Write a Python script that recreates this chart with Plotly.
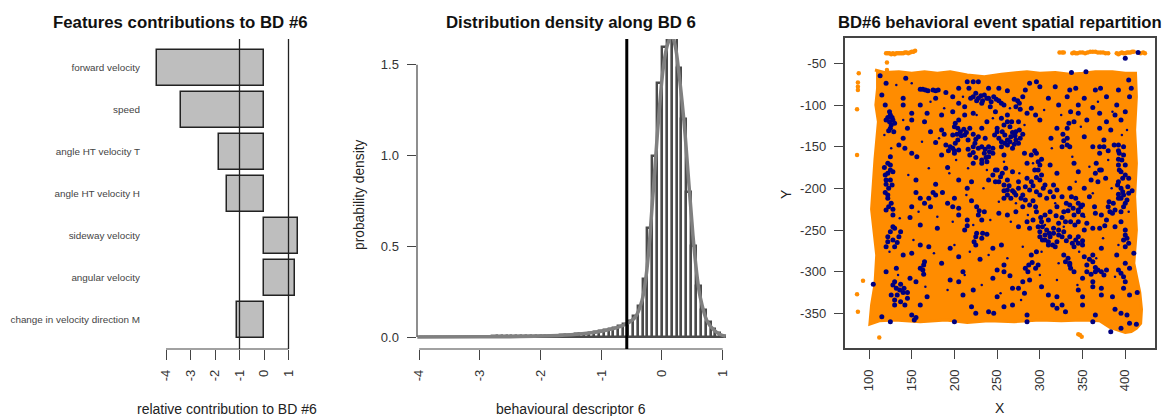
import plotly.graph_objects as go

W, H = 1173, 416

# --- panel 1
features = ["forward velocity", "speed", "angle HT velocity T", "angle HT velocity H",
            "sideway velocity", "angular velocity", "change in velocity direction M"]
contrib = [-4.35, -3.4, -1.82, -1.5, 1.38, 1.25, -1.12]
contrib_ticks = [-4, -3, -2, -1, 0, 1]
contrib_lines = [-1, 1]

# --- panel 2
hist_mid = [-3.96, -3.88, -3.8, -3.72, -3.64, -3.56, -3.48, -3.4, -3.32, -3.24, -3.16, -3.08, -3.0,
            -2.92, -2.84, -2.76, -2.68, -2.6, -2.52, -2.44, -2.36, -2.28, -2.2, -2.12, -2.04,
            -1.96, -1.88, -1.8, -1.72, -1.64, -1.56, -1.48, -1.4, -1.32, -1.24, -1.16, -1.08, -1.0,
            -0.92, -0.84, -0.76, -0.68, -0.6, -0.52, -0.44, -0.36, -0.28, -0.2, -0.12, -0.04,
            0.04, 0.12, 0.2, 0.28, 0.36, 0.44, 0.52, 0.6, 0.68, 0.76, 0.84, 0.92, 1.0]
hist_val = [0.001, 0.001, 0.001, 0.001, 0.001, 0.001, 0.001, 0.001, 0.002, 0.002, 0.002, 0.002, 0.002,
            0.002, 0.002, 0.003, 0.003, 0.003, 0.003, 0.003, 0.004, 0.004, 0.004, 0.005, 0.005,
            0.006, 0.006, 0.007, 0.008, 0.009, 0.011, 0.012, 0.014, 0.016, 0.019, 0.022, 0.027, 0.033,
            0.038, 0.045, 0.052, 0.06, 0.07, 0.09, 0.115, 0.17, 0.32, 0.6, 1.0, 1.4,
            1.6, 1.75, 1.72, 1.48, 1.2, 0.8, 0.5, 0.28, 0.15, 0.085, 0.045, 0.022, 0.008]
dens_x = [-4.03, -3.0, -2.5, -2.0, -1.5, -1.2, -1.0, -0.8, -0.6, -0.44, -0.33, -0.26, -0.2, -0.08, 0.0,
          0.05, 0.1, 0.16, 0.22, 0.28, 0.33, 0.38, 0.51, 0.58, 0.63, 0.74, 0.86, 0.95, 1.05]
dens_y = [0.0, 0.001, 0.002, 0.005, 0.012, 0.022, 0.032, 0.046, 0.07, 0.11, 0.2, 0.34, 0.55, 1.1, 1.42,
          1.55, 1.62, 1.66, 1.6, 1.45, 1.3, 1.12, 0.56, 0.33, 0.22, 0.09, 0.037, 0.015, 0.004]
dens_ticks_x = [-4, -3, -2, -1, 0, 1]
dens_ticks_y = [0.0, 0.5, 1.0, 1.5]
threshold = [-0.58]

# --- panel 3
mass_x = [107, 118, 135, 150, 165, 180, 195, 215, 235, 255, 275, 285, 300, 318, 335, 350, 365, 385, 400, 412,
          413, 411, 413, 411, 413, 410, 413, 417, 419, 418, 413, 407, 400, 390, 382, 370, 350, 325, 300, 270,
          240, 215, 190, 160, 130, 112, 101, 103, 107, 109, 103, 105, 107, 111, 108, 110, 110]
mass_y = [-58, -61, -60, -62, -60, -62, -60, -64, -66, -63, -61, -60, -62, -61, -63, -62, -60, -60, -62, -62,
          -90, -130, -170, -210, -250, -290, -305, -325, -345, -362, -368, -372, -373, -370, -367, -359, -358,
          -359, -358, -360, -359, -361, -358, -360, -358, -359, -363, -340, -315, -280, -225, -195, -165, -120,
          -100, -80, -58]
stray_x = [120, 122, 124, 126, 128, 130, 132, 134, 136, 138, 140, 142, 144, 146, 148, 150, 152, 154,
           323, 326, 328, 338, 340, 342, 344, 347, 350, 353, 356, 359, 362, 365, 368, 371, 374, 377, 380,
           390, 392, 394, 396, 398, 400, 402, 404, 406, 408, 410, 418, 421, 423,
           88, 87, 87, 87, 86, 86, 93, 86, 87, 112, 121, 121, 345, 347, 349, 112]
stray_y = [-38, -38, -38, -39, -38, -39, -38, -38, -38, -38, -38, -37, -37, -38, -37, -36, -36, -35,
           -37, -37, -37, -38, -37, -38, -38, -37, -37, -38, -37, -36, -36, -36, -37, -37, -37, -38, -38,
           -38, -39, -38, -37, -38, -38, -37, -37, -37, -36, -36, -38, -37, -38,
           -62, -73, -78, -82, -105, -160, -311, -327, -348, -379, -49, -58, -375, -376, -378, -122]

navy_xy_rows = [
    [(113,-65),(143,-68),(120,-74),(215,-72),(222,-72),(228,-72),(288,-74),(296,-72),(337,-61),(354,-60),(404,-70),(415,-37),(400,-44)],
    [(160,-81),(166,-82),(175,-82),(181,-82),(190,-85),(205,-80),(217,-80),(240,-80),(252,-80),(262,-83),(283,-82),(300,-78),(318,-78),(335,-82),(342,-80),(365,-82),(371,-80),(392,-82),(407,-80)],
    [(115,-88),(140,-92),(178,-92),(198,-90),(222,-90),(228,-92),(235,-88),(240,-92),(246,-90),(252,-95),(270,-93),(280,-90),(310,-92),(332,-90),(352,-92),(378,-90),(405,-90)],
    [(119,-100),(140,-100),(160,-100),(205,-98),(212,-102),(232,-98),(242,-102),(258,-100),(272,-102),(276,-98),(290,-104),(322,-100),(345,-100),(362,-103),(390,-100)],
    [(124,-108),(168,-110),(185,-112),(198,-108),(212,-112),(222,-110),(248,-108),(262,-112),(285,-110),(295,-112),(336,-108),(345,-110),(370,-110),(388,-112),(400,-108)],
    [(122,-115),(127,-115),(124,-120),(130,-122),(150,-118),(165,-120),(205,-118),(238,-120),(255,-116),(262,-120),(275,-120),(300,-118),(340,-120),(355,-118),(378,-120),(395,-118)],
    [(125,-128),(129,-132),(145,-128),(185,-130),(200,-126),(207,-132),(218,-128),(232,-128),(250,-128),(256,-132),(265,-126),(272,-132),(320,-128),(370,-128),(383,-130)],
    [(140,-140),(188,-135),(198,-136),(204,-142),(212,-136),(216,-142),(228,-138),(236,-140),(252,-140),(259,-136),(266,-138),(272,-142),(280,-135),(313,-140),(327,-135),(332,-140),(352,-138),(375,-142)],
    [(135,-148),(142,-152),(190,-148),(198,-152),(205,-154),(222,-150),(232,-150),(245,-152),(255,-150),(262,-148),(268,-152),(275,-146),(294,-155),(326,-150),(332,-148),(362,-150),(370,-150),(392,-148),(398,-150)],
    [(150,-158),(156,-162),(125,-162),(200,-158),(218,-160),(225,-163),(235,-158),(240,-162),(245,-158),(258,-160),(282,-158),(290,-160),(296,-158),(370,-158),(393,-158),(398,-160),(392,-165)],
    [(122,-170),(118,-175),(125,-172),(222,-170),(232,-170),(238,-168),(285,-170),(298,-168),(312,-172),(340,-170),(392,-172),(400,-172)],
    [(122,-182),(128,-180),(250,-178),(256,-182),(245,-184),(268,-180),(298,-178),(302,-184),(320,-182),(345,-180),(365,-182),(372,-178),(395,-180),(400,-184)],
    [(125,-190),(120,-195),(155,-190),(205,-190),(220,-192),(240,-190),(248,-192),(262,-190),(275,-192),(285,-188),(290,-192),(300,-190),(360,-190),(368,-192),(392,-192),(404,-188)],
    [(123,-200),(119,-205),(175,-205),(215,-200),(262,-202),(270,-205),(262,-208),(275,-200),(280,-208),(288,-202),(304,-200),(312,-204),(335,-200),(395,-200),(403,-198),(408,-203)],
    [(122,-212),(160,-212),(170,-212),(178,-208),(200,-212),(258,-212),(266,-212),(278,-212),(292,-215),(308,-212),(316,-210),(342,-212),(392,-212),(398,-208),(402,-214)],
    [(123,-222),(128,-225),(150,-222),(165,-218),(172,-222),(198,-222),(205,-224),(280,-222),(295,-222),(320,-222),(335,-220),(345,-218),(380,-222),(386,-218),(398,-222)],
    [(128,-232),(235,-228),(228,-232),(252,-230),(262,-232),(272,-228),(328,-228),(340,-232),(385,-230),(365,-230),(395,-228)],
    [(285,-240),(292,-238),(302,-240),(310,-238),(330,-240),(322,-242),(345,-240),(215,-238),(232,-238),(355,-242),(395,-240),(378,-238)],
    [(130,-248),(160,-244),(180,-248),(212,-250),(275,-246),(288,-248),(300,-252),(308,-250),(316,-248),(322,-250),(328,-252),(352,-250),(370,-248),(388,-246),(400,-250)],
    [(122,-258),(135,-258),(128,-262),(225,-258),(232,-260),(300,-258),(306,-262),(312,-258),(320,-264),(335,-258),(342,-262),(345,-258),(398,-262),(402,-260)],
    [(120,-270),(130,-270),(160,-268),(195,-272),(225,-268),(255,-268),(310,-268),(318,-270),(340,-270),(350,-268),(372,-272),(400,-270)],
    [(150,-278),(205,-282),(290,-280),(296,-276),(328,-280),(333,-284),(352,-282),(390,-280),(410,-278)],
    [(165,-288),(335,-290),(362,-288),(365,-295),(298,-292),(335,-292),(355,-292),(258,-292),(400,-290)],
    [(163,-298),(164,-292),(132,-296),(295,-296),(286,-300),(368,-298),(372,-300),(378,-298),(250,-298),(258,-300),(392,-298),(395,-302),(405,-296),(120,-300)],
    [(148,-308),(155,-312),(195,-310),(205,-312),(245,-308),(350,-308),(362,-312),(288,-310),(280,-312),(398,-306),(400,-312)],
    [(128,-316),(132,-320),(105,-315),(140,-325),(136,-322),(222,-322),(268,-320),(302,-318),(345,-322),(362,-318),(372,-320),(398,-320)],
    [(126,-328),(145,-332),(168,-330),(210,-328),(250,-330),(282,-326),(310,-328),(320,-330),(350,-330),(372,-328),(385,-330),(405,-328),(414,-325)],
    [(130,-340),(142,-340),(160,-340),(220,-342),(258,-342),(268,-340),(315,-340),(320,-344),(326,-340),(350,-340),(388,-345)],
    [(115,-354),(150,-352),(155,-355),(225,-350),(240,-348),(246,-350),(285,-352),(330,-348),(365,-352),(395,-350),(402,-352)],
    [(125,-360),(153,-358),(200,-360),(285,-360),(362,-360),(413,-363),(383,-372),(395,-368),(405,-362)],
    [(163,-81),(169,-83),(178,-83),(225,-86),(231,-89),(238,-92),(243,-96),(219,-92),(226,-95),(233,-95),(249,-93),(255,-98),(274,-95),(277,-105)],
    [(125,-112),(120,-118),(128,-118),(126,-124),(123,-131),(201,-122),(204,-128),(211,-129),(214,-133),(208,-137),(203,-135),(222,-135),(225,-141)],
    [(201,-146),(195,-150),(193,-155),(200,-155),(224,-146),(228,-152),(236,-153),(240,-150),(241,-156),(237,-163),(232,-166),(222,-157),(216,-153)],
    [(250,-132),(247,-136),(255,-144),(262,-142),(268,-133),(271,-137),(259,-146),(265,-144),(270,-147),(277,-140),(276,-130),(267,-120),(258,-124)],
    [(254,-186),(248,-178),(260,-176),(252,-192),(258,-196),(264,-197),(268,-203),(258,-203),(272,-208),(283,-198),(292,-197),(296,-204),(300,-208),(306,-196)],
    [(283,-214),(288,-220),(296,-228),(301,-235),(306,-232),(312,-228),(319,-233),(326,-235),(333,-227),(339,-224),(345,-226),(350,-220),(336,-240),(341,-244)],
    [(298,-246),(303,-246),(306,-256),(311,-254),(316,-254),(303,-262),(310,-264),(315,-268),(322,-256),(326,-258),(331,-263),(338,-266),(345,-266),(350,-263)],
    [(294,-178),(296,-187),(300,-172),(302,-165),(348,-222),(345,-228),(350,-232),(337,-210),(331,-218),(316,-196),(320,-202),(326,-210)],
    [(392,-155),(396,-166),(393,-178),(397,-188),(391,-196),(397,-204),(404,-206),(392,-207),(400,-218),(395,-212),(382,-228),(388,-226),(381,-216),(400,-256),(404,-266)],
    [(125,-178),(119,-184),(120,-190),(127,-196),(122,-208),(126,-218),(120,-226),(128,-246),(125,-252),(122,-264),(137,-252),(133,-265)],
    [(130,-312),(137,-315),(141,-320),(145,-325),(133,-328),(130,-334),(137,-336),(226,-254),(233,-254),(223,-264),(238,-255),(164,-303),(160,-296)],
    [(287,-292),(291,-289),(283,-296),(355,-300),(360,-303),(365,-300),(375,-304),(362,-280),(358,-285),(330,-288),(336,-296),(340,-300),(220,-215),(226,-222),(229,-227)],
    [(332,-128),(334,-122),(328,-143),(335,-150),(375,-150),(380,-155),(387,-148),(366,-170),(370,-178),(377,-188),(352,-200),(358,-210),(364,-222),(372,-232),(376,-245),(362,-248)],
    [(150,-110),(172,-132),(178,-145),(185,-160),(192,-175),(178,-195),(186,-205),(192,-218),(205,-232),(215,-245),(155,-205),(148,-235),(140,-280),(170,-270),(185,-290),(210,-300),(230,-285),(245,-272),(265,-305),(275,-320)],
]
navy_x = [p[0] for row in navy_xy_rows for p in row]
navy_y = [p[1] for row in navy_xy_rows for p in row]
speck_x = [132, 150, 172, 188, 210, 226, 245, 265, 282, 305, 325, 348, 368, 385, 402, 118, 140, 162, 182, 202,
           216, 238, 258, 276, 292, 314, 338, 358, 380, 396, 126, 146, 170, 194, 214, 234, 252, 272, 296, 318,
           342, 362, 384, 404, 136, 158, 180, 198, 222, 242, 266, 286, 306, 328, 352, 374, 392, 124, 152, 176,
           200, 218, 240, 262, 280, 302, 322, 346, 366, 388, 134, 166, 192, 212, 232, 254, 278, 300, 320, 344]
speck_y = [-76, -74, -96, -104, -90, -112, -116, -104, -124, -106, -112, -126, -96, -108, -130, -136, -118, -144,
           -140, -166, -176, -178, -168, -182, -170, -152, -162, -174, -166, -136, -152, -184, -176, -182, -208,
           -200, -216, -218, -186, -218, -192, -206, -200, -228, -236, -228, -234, -240, -244, -238, -240, -232,
           -244, -246, -234, -260, -268, -276, -262, -278, -268, -276, -280, -284, -270, -276, -290, -276, -284,
           -306, -304, -318, -322, -304, -316, -326, -334, -304, -310, -316]
space_ticks_x = [100, 150, 200, 250, 300, 350, 400]
space_ticks_y = [-50, -100, -150, -200, -250, -300, -350]

FONT = "Liberation Sans"
INK = "#333333"
ORANGE = "#FF8C00"
NAVY = "#000080"


def dom_x(a, b):
    return [a / W, b / W]


def dom_y(top, bottom):
    return [(H - bottom) / H, (H - top) / H]


fig = go.Figure()

fig.add_trace(go.Bar(y=features, x=contrib, orientation="h", width=0.845,
                     marker=dict(color="#BEBEBE", line=dict(color="#222222", width=1.5)),
                     xaxis="x", yaxis="y", showlegend=False))

fig.add_trace(go.Bar(x=hist_mid, y=hist_val, width=0.08,
                     marker=dict(color="white", line=dict(color="#4A4A4A", width=2.4)),
                     xaxis="x2", yaxis="y2", showlegend=False))
fig.add_trace(go.Scatter(x=dens_x, y=dens_y, mode="lines", line=dict(color="#808080", width=3.5, shape="spline"),
                         xaxis="x2", yaxis="y2", showlegend=False))

fig.add_trace(go.Scatter(x=mass_x, y=mass_y, mode="lines", fill="toself", fillcolor=ORANGE,
                         line=dict(color=ORANGE, width=3), xaxis="x3", yaxis="y3", showlegend=False))
fig.add_trace(go.Scatter(x=stray_x, y=stray_y, mode="markers", marker=dict(color=ORANGE, size=4.5),
                         xaxis="x3", yaxis="y3", showlegend=False))
fig.add_trace(go.Scatter(x=navy_x, y=navy_y, mode="markers", marker=dict(color=NAVY, size=5),
                         xaxis="x3", yaxis="y3", showlegend=False))
fig.add_trace(go.Scatter(x=speck_x, y=speck_y, mode="markers", marker=dict(color=NAVY, size=2.5),
                         xaxis="x3", yaxis="y3", showlegend=False))

tick = dict(ticks="outside", ticklen=9.5, tickwidth=1, tickcolor="#444444", showgrid=False, zeroline=False,
            automargin=False, tickfont=dict(family=FONT, size=13, color=INK))

fig.update_layout(
    width=W, height=H, margin=dict(l=0, r=0, t=0, b=0), autosize=False,
    paper_bgcolor="white", plot_bgcolor="white", bargap=0, showlegend=False,
    xaxis=dict(domain=dom_x(143, 303), range=[(143 - 264) / 24.5, (303 - 264) / 24.5], tickmode="array",
               tickvals=contrib_ticks, ticktext=[str(v) for v in contrib_ticks], tickangle=-90,
               ticklabelstandoff=5, showline=False, **tick),
    yaxis=dict(domain=dom_y(39, 349), type="category", range=[6.69, -0.685], showgrid=False, zeroline=False,
               automargin=False, showline=False, ticks="", ticklabelstandoff=2,
               tickfont=dict(family=FONT, size=9.9, color="#444444")),
    xaxis2=dict(domain=dom_x(417, 727), range=[-4.036, 1.071], anchor="y2", tickmode="array",
                tickvals=dens_ticks_x, ticktext=[str(v) for v in dens_ticks_x], tickangle=-90,
                ticklabelstandoff=5, showline=False, **tick),
    yaxis2=dict(domain=dom_y(39, 349), range=[-0.066, 1.642], anchor="x2", tickmode="array",
                tickvals=dens_ticks_y, ticktext=[f"{v:.1f}" for v in dens_ticks_y], ticklabelstandoff=5,
                showline=False, **tick),
    xaxis3=dict(domain=dom_x(845, 1155), range=[71.9, 434.8], anchor="y3", tickmode="array",
                tickvals=space_ticks_x, ticktext=[str(v) for v in space_ticks_x], tickangle=-90,
                ticklabelstandoff=5, showline=True, mirror=True, linecolor="#444444", linewidth=1.5, **tick),
    yaxis3=dict(domain=dom_y(38, 348), range=[-391.6, -19.6], anchor="x3", tickmode="array",
                tickvals=space_ticks_y, ticktext=[str(v) for v in space_ticks_y], ticklabelstandoff=5,
                showline=True, mirror=True, linecolor="#444444", linewidth=1.5, **tick),
)

axis_line = dict(color="#444444", width=1.2)
shapes = [
    dict(type="line", xref="x", yref="paper", x0=contrib_ticks[0], x1=contrib_ticks[-1],
         y0=(H - 349) / H, y1=(H - 349) / H, line=axis_line),
    dict(type="line", xref="x2", yref="paper", x0=dens_ticks_x[0], x1=dens_ticks_x[-1],
         y0=(H - 349) / H, y1=(H - 349) / H, line=axis_line),
    dict(type="line", xref="paper", yref="y2", x0=417 / W, x1=417 / W,
         y0=dens_ticks_y[0], y1=dens_ticks_y[-1], line=axis_line),
]
for v in contrib_lines:
    shapes.append(dict(type="line", xref="x", yref="paper", x0=v, x1=v, y0=(H - 349) / H, y1=(H - 39) / H,
                       line=dict(color="#222222", width=1.3)))
for v in threshold:
    shapes.append(dict(type="line", xref="x2", yref="paper", x0=v, x1=v, y0=(H - 349) / H, y1=(H - 39) / H,
                       line=dict(color="black", width=3)))
fig.update_layout(shapes=shapes)


def note(text, x, y, size, bold=False, angle=0, color="#222222"):
    fig.add_annotation(text=f"<b>{text}</b>" if bold else text, xref="paper", yref="paper",
                       x=x / W, y=(H - y) / H, xanchor="center", yanchor="middle", showarrow=False,
                       textangle=angle, font=dict(family=FONT, size=size, color=color))


note("Features contributions to BD #6", 180, 22, 16.8, bold=True, color="#111111")
note("Distribution density along BD 6", 571, 22, 16.8, bold=True, color="#111111")
note("BD#6 behavioral event spatial repartition", 1000, 22, 16.7, bold=True, color="#111111")
note("relative contribution to BD #6", 227, 409, 14)
note("behavioural descriptor 6", 571, 409, 14)
note("X", 1000, 408, 14)
note("probability density", 359, 194, 13.8, angle=-90)
note("Y", 786, 194, 14, angle=-90)

fig.write_html("out.html", config={"displayModeBar": False}, post_script="document.body.style.margin='0';")
